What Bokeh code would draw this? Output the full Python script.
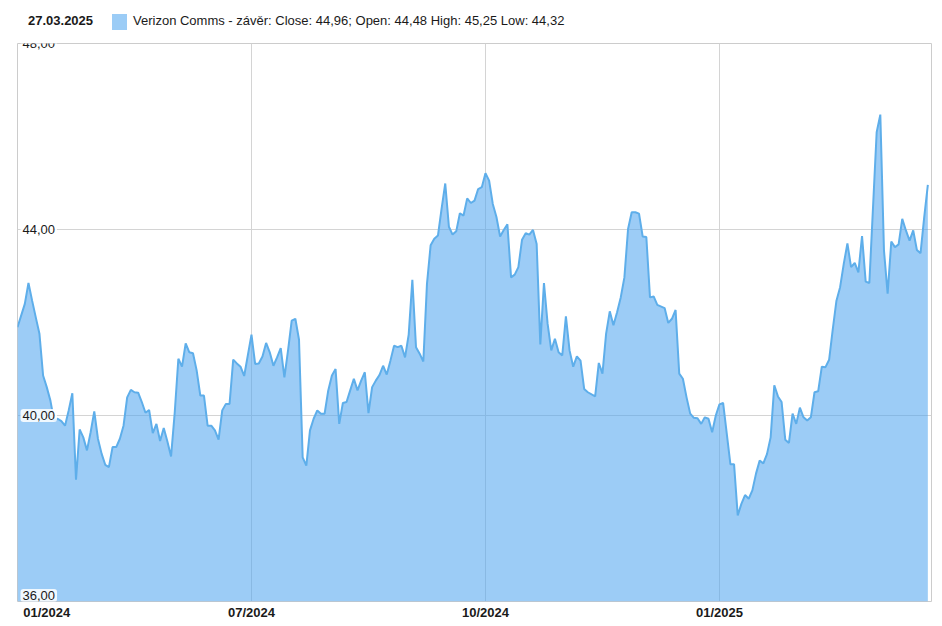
from bokeh.plotting import figure
from bokeh.models import Range1d, FixedTicker, Label, ColumnDataSource, Div
from bokeh.layouts import column
from bokeh.embed import file_html
from bokeh.resources import INLINE

# ---- data (trading-day index, close price) ----
day_index = [0, 2, 3, 4, 5, 6, 7, 8, 9, 10, 11, 12, 13, 14, 15, 16, 17, 18, 19, 20,
             21, 22, 23, 24, 25, 26, 27, 28, 29, 30, 31, 32, 33, 34, 35, 36, 37, 38, 39, 40,
             41, 42, 43, 44, 45, 46, 47, 48, 49, 50, 51, 52, 53, 54, 55, 56, 57, 58, 59, 60,
             61, 62, 64, 65, 66, 67, 68, 69, 70, 71, 72, 73, 74, 75, 76, 77, 78, 79, 80, 81,
             82, 83, 84, 85, 86, 87, 88, 89, 90, 91, 92, 93, 94, 95, 96, 97, 98, 99, 100, 101,
             102, 103, 104, 105, 106, 107, 108, 109, 110, 111, 112, 113, 114, 115, 116, 117, 118, 119, 120, 121,
             122, 123, 124, 125, 126, 127, 128, 129, 130, 131, 132, 133, 134, 135, 136, 137, 138, 139, 140, 141,
             142, 143, 144, 145, 146, 147, 148, 149, 150, 151, 152, 153, 154, 155, 156, 158, 159, 160, 161, 162,
             163, 164, 165, 166, 167, 168, 169, 170, 171, 172, 173, 174, 175, 177, 178, 179, 180, 181, 182, 183,
             184, 185, 186, 187, 188, 189, 190, 191, 192, 193, 194, 195, 196, 197, 198, 199, 200, 201, 202, 203,
             204, 205, 206, 207, 208, 209, 210, 211, 212, 213, 214, 215, 216, 217, 218, 219, 220, 221, 222, 223,
             224, 225, 226, 227, 228, 229, 230, 231, 232, 233, 235, 236, 237, 238, 239, 240, 241, 242, 243, 244,
             245, 246, 247, 248, 249]
close = [41.90, 42.40, 42.85, 42.47, 42.11, 41.76, 40.86, 40.61, 40.32, 39.89, 39.93, 39.88, 39.78, 40.11, 40.48, 38.62, 39.70, 39.53, 39.25, 39.64,
         40.09, 39.50, 39.18, 38.94, 38.89, 39.32, 39.32, 39.50, 39.78, 40.39, 40.55, 40.50, 40.49, 40.29, 40.06, 40.12, 39.62, 39.82, 39.45, 39.73,
         39.44, 39.12, 40.06, 41.22, 41.05, 41.55, 41.36, 41.34, 40.97, 40.43, 40.43, 39.78, 39.78, 39.68, 39.48, 40.11, 40.25, 40.25, 41.20, 41.12,
         41.05, 40.85, 41.74, 41.11, 41.12, 41.27, 41.56, 41.36, 41.07, 41.25, 41.45, 40.82, 41.40, 42.04, 42.08, 41.63, 39.10, 38.92, 39.68, 39.93,
         40.11, 40.04, 40.04, 40.54, 40.86, 41.00, 39.82, 40.27, 40.29, 40.54, 40.79, 40.54, 40.75, 40.93, 40.05, 40.61, 40.75, 40.87, 41.07, 40.88,
         41.18, 41.50, 41.47, 41.50, 41.25, 41.74, 42.92, 41.47, 41.33, 41.16, 42.83, 43.66, 43.80, 43.87, 44.45, 44.99, 44.06, 43.89, 43.96, 44.35,
         44.30, 44.67, 44.57, 44.62, 44.87, 44.91, 45.21, 45.05, 44.55, 44.27, 43.85, 43.99, 44.11, 42.97, 43.03, 43.19, 43.78, 43.92, 43.89, 43.99,
         43.69, 41.53, 42.85, 41.97, 41.40, 41.65, 41.36, 41.29, 42.13, 41.40, 41.05, 41.27, 41.18, 40.57, 40.50, 40.41, 41.13, 40.90, 41.76, 42.24,
         41.94, 42.22, 42.54, 42.97, 44.01, 44.37, 44.37, 44.34, 43.85, 43.84, 42.54, 42.56, 42.38, 42.31, 41.99, 42.08, 42.27, 40.90, 40.79, 40.39,
         40.04, 39.95, 39.94, 39.82, 39.96, 39.93, 39.64, 40.00, 40.24, 40.27, 39.61, 38.95, 38.95, 37.85, 38.10, 38.29, 38.21, 38.39, 38.75, 39.03,
         38.97, 39.17, 39.53, 40.65, 40.41, 40.29, 39.48, 39.41, 40.04, 39.82, 40.17, 39.96, 39.89, 39.96, 40.50, 40.52, 41.05, 41.04, 41.20, 41.86,
         42.47, 42.76, 43.26, 43.70, 43.19, 43.28, 43.08, 43.86, 42.88, 42.85, 46.09, 46.47, 43.55, 42.62, 43.74, 43.62, 43.68, 44.23, 43.98, 43.76,
         43.98, 43.56, 43.49, 44.26, 44.96]

y_ticks = [36, 40, 44, 48]
y_tick_labels = ["36,00", "40,00", "44,00", "48,00"]
x_tick_pos = [8, 64, 128, 192]
x_tick_labels = ["01/2024", "07/2024", "10/2024", "01/2025"]
x_grid_pos = [64, 128, 192]
header_date = "27.03.2025"
series_label = "Verizon Comms - závěr: Close: 44,96; Open: 44,48 High: 45,25 Low: 44,32"

FONT = "'Liberation Sans', Arial, sans-serif"
TEXT_COLOR = "#1a1a1a"
FILL_SWATCH = "#9bccf6"

header = Div(width=942, height=35, margin=0, text=f"""
<div style="position:relative;width:942px;height:35px;font-family:'Liberation Sans',Arial,sans-serif;font-size:13px;color:{TEXT_COLOR};">
  <span style="position:absolute;left:28px;top:13px;line-height:16px;font-weight:bold;white-space:nowrap;">{header_date}</span>
  <span style="position:absolute;left:112px;top:14px;width:15px;height:16px;background:{FILL_SWATCH};"></span>
  <span style="position:absolute;left:133px;top:13px;line-height:16px;white-space:nowrap;">{series_label}</span>
</div>""")

p = figure(width=942, height=591, margin=0,
           x_range=Range1d(0, 250), y_range=Range1d(36, 48),
           output_backend="svg", toolbar_location=None,
           y_axis_location=None,
           min_border_left=17, min_border_right=11,
           min_border_top=8, min_border_bottom=25)

p.outline_line_color = "#cccccc"
p.background_fill_color = "white"
p.border_fill_color = "white"

src = ColumnDataSource(dict(day=day_index, close=close))
p.varea(x="day", y1=y_ticks[0], y2="close", source=src,
        fill_color="#4aa3ee", fill_alpha=0.55)
p.line("day", "close", source=src, line_color="#5eaeea", line_width=2)

# grids
p.xgrid.ticker = FixedTicker(ticks=x_grid_pos)
p.ygrid.ticker = FixedTicker(ticks=y_ticks)
p.grid.grid_line_color = "#d4d4d4"
p.grid.grid_line_width = 1

# x axis
xa = p.xaxis[0]
xa.ticker = FixedTicker(ticks=x_tick_pos)
xa.major_label_overrides = {pos: lab for pos, lab in zip(x_tick_pos, x_tick_labels)}
xa.axis_line_color = None
xa.major_tick_line_color = None
xa.minor_tick_line_color = None
xa.major_tick_out = 0
xa.major_tick_in = 0
xa.major_label_standoff = 3
xa.major_label_text_font = FONT
xa.major_label_text_font_style = "bold"
xa.major_label_text_font_size = "13px"
xa.major_label_text_color = TEXT_COLOR

# y tick labels inside the plot
for v, t in zip(y_ticks, y_tick_labels):
    p.add_layout(Label(x=0, y=v, text=t, x_offset=3,
                       y_offset=(6 if v == y_ticks[0] else 0),
                       text_baseline="middle", text_align="left",
                       text_font=FONT, text_font_size="13px", text_color=TEXT_COLOR,
                       background_fill_color="white", background_fill_alpha=0.85,
                       padding=2, border_radius=3))

layout = column(header, p, spacing=0)
open("out.html", "w").write(file_html(layout, INLINE))
